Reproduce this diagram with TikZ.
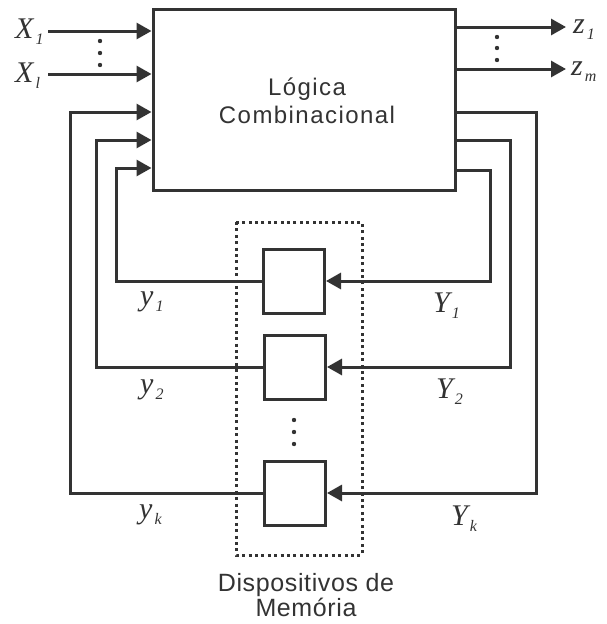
\documentclass[tikz,border=0pt]{standalone}
\usepackage{fontspec}
\setmainfont{Liberation Sans}
\newfontfamily\tms{Liberation Serif}
\usetikzlibrary{arrows.meta}
% italic signal name with a lowered subscript
\newcommand\sig[2]{{\tms\itshape\fontsize{30}{30}\selectfont #1\kern2pt\raisebox{-6pt}{\fontsize{16}{16}\selectfont #2}}}
\definecolor{ink}{HTML}{333333}
\tikzset{
  wire/.style={line width=3pt, draw=ink},
  arr/.style={wire, -{Triangle[length=15pt,width=16pt]}},
  block/.style={rectangle, draw=ink, line width=3pt, inner sep=0pt, fill=white},
  membox/.style={block, minimum width=61pt, minimum height=64pt},
  lbl/.style={inner sep=0pt, text=ink, anchor=base west},
  caption/.style={inner sep=0pt, align=center, text=ink},
}
\begin{document}
\begin{tikzpicture}[x=1pt, y=-1pt]
\useasboundingbox (0,0) rectangle (607,624);

% memory devices enclosure
\draw[ink, line width=3pt, dash pattern=on 3pt off 3.4pt] (236,222) rectangle (362,555);

% combinational logic block (base anchor = baseline of the last line)
\node[block, minimum width=302pt, minimum height=181pt] (logic) at (304,99.5) {};
\node[caption, anchor=base,
      font=\fontsize{24}{28}\selectfont\addfontfeature{LetterSpace=6}] (logictxt) at (307,123)
  {Lógica\\Combinacional};

% memory elements
\node[membox] (m1) at (294,281) {};
\node[membox] (m2) at (295,367) {};
\node[membox] (m3) at (295,493) {};

% primary inputs
\coordinate (xa) at (48,31);
\coordinate (xb) at (48,74);
\draw[arr] (xa) -- (xa -| logic.west);
\draw[arr] (xb) -- (xb -| logic.west);
\node[lbl] (lx1) at (15,38) {\sig{X}{1}};
\node[lbl] (lxl) at (15,82) {\sig{X}{l}};
\foreach \yy in {41,53,65} \fill[ink] (100,\yy) circle (2.2pt);

% primary outputs
\coordinate (za) at (566,27);
\coordinate (zb) at (566,69);
\draw[arr] (za -| logic.east) -- (za);
\draw[arr] (zb -| logic.east) -- (zb);
\node[lbl] (lz1) at (573,33) {\sig{z}{1}};
\node[lbl] (lzm) at (571,75) {\sig{z}{m}};
\foreach \yy in {37,48,60} \fill[ink] (497,\yy) circle (2.2pt);

% present state feedback (memory -> logic)
\coordinate (l1) at (116,281);
\coordinate (l2) at (96,367);
\coordinate (l3) at (70,493);
\coordinate (i1) at (153,168);
\coordinate (i2) at (153,140);
\coordinate (i3) at (153,112);
\draw[arr] (m1.west) -- (l1) |- (i1 -| logic.west);
\draw[arr] (m2.west) -- (l2) |- (i2 -| logic.west);
\draw[arr] (m3.west) -- (l3) |- (i3 -| logic.west);

% next state (logic -> memory)
\coordinate (r1) at (490,281);
\coordinate (r2) at (510,367);
\coordinate (r3) at (536,493);
\coordinate (o1) at (455,170);
\coordinate (o2) at (455,140);
\coordinate (o3) at (455,112);
\draw[arr] (o1 -| logic.east) -| (r1) -- (m1.east);
\draw[arr] (o2 -| logic.east) -| (r2) -- (m2.east);
\draw[arr] (o3 -| logic.east) -| (r3) -- (m3.east);

% state variable labels
\node[lbl] (ly1) at (140,305) {\sig{y}{1}};
\node[lbl] (lY1) at (433,312) {\sig{Y}{1}};
\node[lbl] (ly2) at (140,393) {\sig{y}{2}};
\node[lbl] (lY2) at (436,398) {\sig{Y}{2}};
\node[lbl] (lyk) at (139,518) {\sig{y}{k}};
\node[lbl] (lYk) at (451,525) {\sig{Y}{k}};

\foreach \yy in {420,432,444} \fill[ink] (294,\yy) circle (2.2pt);

\node[caption, anchor=base,
      font=\fontsize{25}{23}\selectfont\addfontfeature{LetterSpace=2.5}] (memlbl) at (306,616)
  {Dispositivos de\\Memória};
\end{tikzpicture}
\end{document}
